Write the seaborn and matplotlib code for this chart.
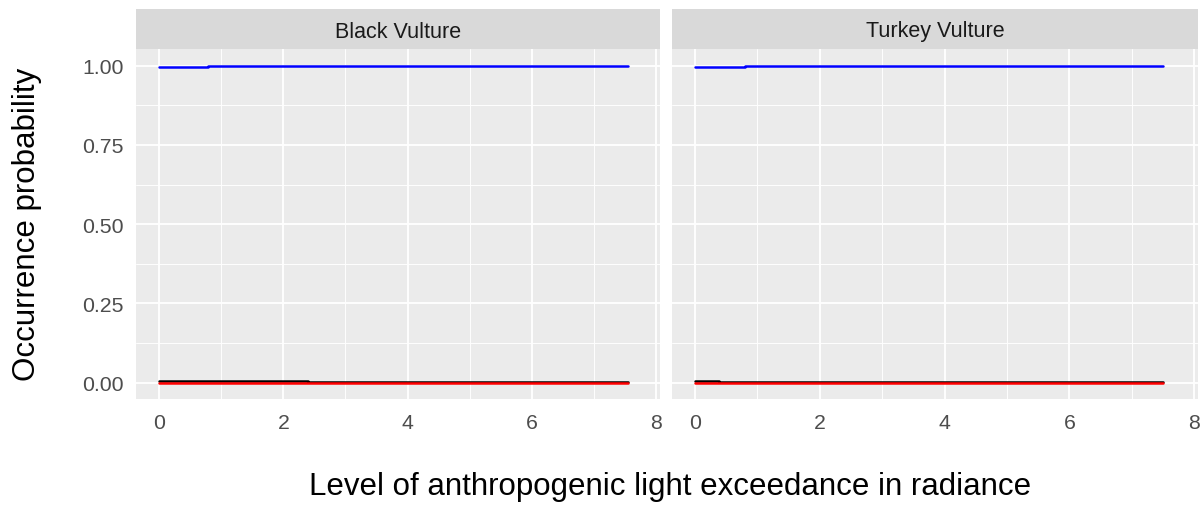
import matplotlib
matplotlib.use("Agg")
import matplotlib.pyplot as plt
import seaborn as sns
import pandas as pd
import numpy as np
from matplotlib.ticker import FixedLocator

sns.set_theme(style="darkgrid")
plt.rcParams['font.family'] = ['Liberation Sans', 'DejaVu Sans']

panels = ["Black Vulture", "Turkey Vulture"]

# Black Vulture
bv_blue_x = [0.0, 0.60, 0.79, 1.19, 1.98, 3.18, 7.55]
bv_blue_y = [0.995, 0.997, 0.998, 1.000, 0.998, 1.000, 1.000]
bv_black_x = [0.0, 2.39, 7.55]
bv_black_y = [0.005, 0.002, 0.002]
bv_red_x = [0.0, 7.55]
bv_red_y = [0.0, 0.0]

# Turkey Vulture
tv_blue_x = [0.0, 0.39, 0.80, 7.50]
tv_blue_y = [0.995, 0.997, 1.000, 1.000]
tv_black_x = [0.0, 0.39, 2.77, 7.50]
tv_black_y = [0.006, 0.003, 0.001, 0.001]
tv_red_x = [0.0, 7.50]
tv_red_y = [0.0, 0.0]

y_ticks = [0.0, 0.25, 0.5, 0.75, 1.0]
y_labels = ["0.00", "0.25", "0.50", "0.75", "1.00"]
x_ticks = [0, 2, 4, 6, 8]

series = {
    "Black Vulture": [(bv_blue_x, bv_blue_y, "blue"), (bv_black_x, bv_black_y, "black"), (bv_red_x, bv_red_y, "red")],
    "Turkey Vulture": [(tv_blue_x, tv_blue_y, "blue"), (tv_black_x, tv_black_y, "black"), (tv_red_x, tv_red_y, "red")],
}

W, H = 1204, 506
fig = plt.figure(figsize=(W/100, H/100), dpi=100)
fig.patch.set_facecolor("white")

panel_px = [(136, 660), (672, 1198)]
ptop, pbot = 50, 400
strip_top = 10

for (x0, x1), name in zip(panel_px, panels):
    ax = fig.add_axes([x0/W, 1-pbot/H, (x1-x0)/W, (pbot-ptop)/H])
    ax.set_facecolor("#EBEBEB")
    for xs, ys, c in series[name]:
        df = pd.DataFrame({"x": xs, "y": ys})
        sns.lineplot(data=df, x="x", y="y", ax=ax, color=c, linewidth=1.8,
                     drawstyle="steps-post", estimator=None, sort=False)
    ax.set_xlim(-0.37, 8.06)
    ax.set_ylim(-0.052, 1.053)
    ax.xaxis.set_major_locator(FixedLocator(x_ticks))
    ax.xaxis.set_minor_locator(FixedLocator([1, 3, 5, 7]))
    ax.yaxis.set_major_locator(FixedLocator(y_ticks))
    ax.yaxis.set_minor_locator(FixedLocator([0.125, 0.375, 0.625, 0.875]))
    ax.grid(which="major", color="white", linewidth=1.3)
    ax.grid(which="minor", color="white", linewidth=0.65)
    ax.set_axisbelow(True)
    for s in ax.spines.values():
        s.set_visible(False)
    ax.set_xlabel("")
    ax.set_ylabel("")
    ax.tick_params(which="major", length=5, width=1.3, color="#333333",
                   labelcolor="#4D4D4D", labelsize=15.3)
    ax.tick_params(axis="x", which="major", pad=5)
    ax.tick_params(axis="y", which="major", pad=4)
    ax.tick_params(which="minor", length=0)
    ax.set_xticklabels([str(t) for t in x_ticks])
    if name == panels[0]:
        ax.set_yticklabels(y_labels)
    else:
        ax.set_yticklabels([])
        ax.tick_params(axis="y", which="major", length=0)
    # strip
    sax = fig.add_axes([x0/W, 1-ptop/H, (x1-x0)/W, (ptop-strip_top)/H])
    sax.set_facecolor("#D9D9D9")
    sax.set_xticks([]); sax.set_yticks([])
    for s in sax.spines.values():
        s.set_visible(False)
    sax.text(0.5, 0.45, name, ha="center", va="center", fontsize=15.5, color="#1A1A1A",
             transform=sax.transAxes)

fig.text(670/W, 1-487/H, "Level of anthropogenic light exceedance in radiance",
         ha="center", va="center", fontsize=22.5, color="black")
fig.text(27/W, 1-224/H, "Occurrence probability", ha="center", va="center",
         rotation=90, fontsize=22.5, color="black")

fig.savefig("out.png", dpi=100)
